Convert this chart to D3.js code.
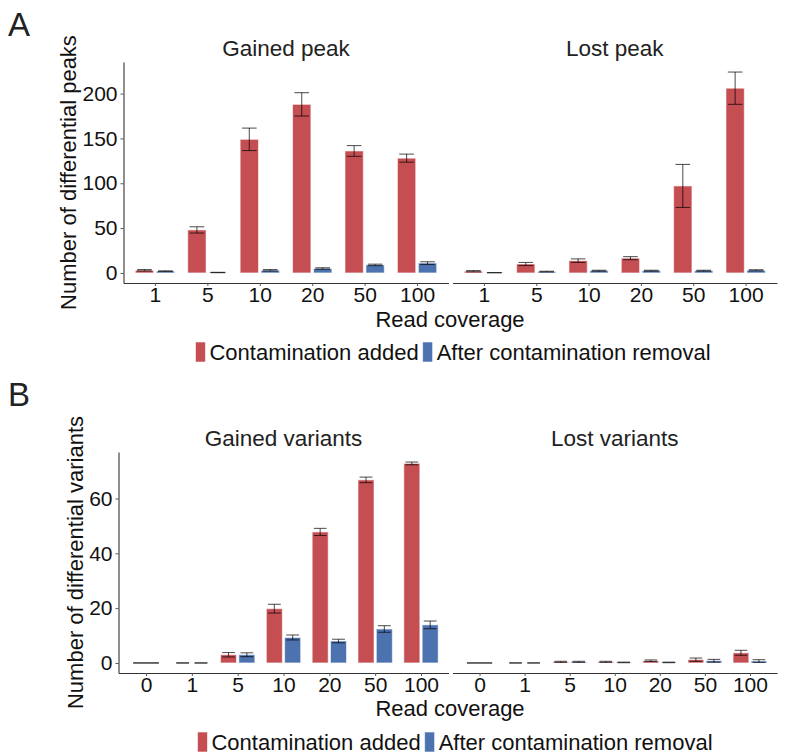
<!DOCTYPE html>
<html>
<head>
<meta charset="utf-8">
<script src="https://cdn.jsdelivr.net/npm/d3@7"></script>
<style>
body { margin: 0; background: #fff; }
text { font-family: "Liberation Sans", Arial, sans-serif; }
</style>
</head>
<body>
<script>
// read coverage categories
var peakCoverage = ["1", "5", "10", "20", "50", "100"];
var variantCoverage = ["0", "1", "5", "10", "20", "50", "100"];

// A - gained / lost peaks
var gainedPeakAdded = [3, 48, 149, 188, 136, 128];
var gainedPeakAddedErr = [0.8, 3.5, 12.5, 13, 6, 4.5];
var gainedPeakRemoved = [2, 0.5, 3, 5, 9, 11];
var gainedPeakRemovedErr = [0.4, 0.2, 0.8, 0.8, 0.8, 1.5];
var lostPeakAdded = [2, 10, 13.7, 16.5, 97, 206];
var lostPeakAddedErr = [0.7, 1.7, 2, 1.7, 24, 18];
var lostPeakRemoved = [0.3, 1.5, 2.5, 2.5, 2.5, 3];
var lostPeakRemovedErr = [0, 0.4, 0.5, 0.5, 0.5, 0.6];

// B - gained / lost variants (null = group not present at that coverage)
var gainedVarAdded = [0, 0, 3, 19.8, 47.8, 66.8, 72.8];
var gainedVarAddedErr = [0, 0, 0.8, 1.6, 1.3, 1, 0.5];
var gainedVarRemoved = [null, 0, 3, 9.3, 8, 12.4, 13.9];
var gainedVarRemovedErr = [null, 0, 0.7, 0.9, 0.65, 1.2, 1.4];
var lostVarAdded = [0, 0, 0.4, 0.4, 0.8, 1.2, 3.7];
var lostVarAddedErr = [0, 0, 0.2, 0.2, 0.3, 0.6, 0.9];
var lostVarRemoved = [null, 0, 0.4, 0.2, 0.2, 0.8, 0.7];
var lostVarRemovedErr = [null, 0, 0.2, 0.1, 0.1, 0.5, 0.5];

var peakTicks = [0, 50, 100, 150, 200];
var variantTicks = [0, 20, 40, 60];

var seriesNames = ["Contamination added", "After contamination removal"];
var colors = ["#C44E52", "#4C72B0"];

var svg = d3.select("body").append("svg")
	.attr("width", 785)
	.attr("height", 756);

// ggplot-like 5% expansion of the data range
function yDomain(lists) {
	var top = 0;
	lists.forEach(function(l) {
		l[0].forEach(function(v, i) {
			if (v != null && v + l[1][i] > top) top = v + l[1][i];
		});
	});
	return [-top * 0.05, top * 1.05];
}

function drawPanel(cats, added, addedErr, removed, removedErr, x0, x1, y, title, top) {
	var x = d3.scalePoint().domain(cats).range([x0, x1]).padding(0.6);
	var step = x.step();
	var g = svg.append("g");

	var rows = [];
	cats.forEach(function(c, i) {
		var single = removed[i] == null;
		rows.push({cat: c, v: added[i], e: addedErr[i], s: 0, off: single ? 0 : -0.2, w: single ? 2 : 1});
		if (!single) rows.push({cat: c, v: removed[i], e: removedErr[i], s: 1, off: 0.2, w: 1});
	});

	g.selectAll("rect.bar")
		.data(rows).enter()
		.append("rect")
		.attr("class", "bar")
		.attr("x", function(d) {return x(d.cat) + d.off * step - 0.175 * step * d.w;})
		.attr("width", function(d) {return 0.35 * step * d.w;})
		.attr("y", function(d) {return y(d.v);})
		.attr("height", function(d) {return y(0) - y(d.v);})
		.style("fill", function(d) {return colors[d.s];})
		.style("stroke", "#fff")
		.style("stroke-opacity", 0.6)
		.style("stroke-width", 1);

	var eb = g.selectAll("g.err")
		.data(rows).enter()
		.append("g")
		.attr("class", "err")
		.style("stroke", "#000")
		.style("stroke-opacity", 0.65)
		.style("stroke-width", 1.1);

	eb.append("line")
		.attr("x1", function(d) {return x(d.cat) + d.off * step;})
		.attr("x2", function(d) {return x(d.cat) + d.off * step;})
		.attr("y1", function(d) {return y(d.v + d.e);})
		.attr("y2", function(d) {return y(d.v - d.e);});
	[1, -1].forEach(function(sign) {
		eb.append("line")
			.attr("x1", function(d) {return x(d.cat) + d.off * step - 0.14 * step * d.w;})
			.attr("x2", function(d) {return x(d.cat) + d.off * step + 0.14 * step * d.w;})
			.attr("y1", function(d) {return y(d.v + sign * d.e);})
			.attr("y2", function(d) {return y(d.v + sign * d.e);});
	});

	var xa = g.append("g")
		.attr("transform", "translate(0," + y.range()[0] + ")")
		.call(d3.axisBottom(x).tickSize(3).tickSizeOuter(0).tickPadding(3));
	xa.select(".domain").style("stroke", "#333").style("stroke-width", 1.1);
	xa.selectAll(".tick line").style("stroke", "#555");
	xa.selectAll(".tick text")
		.style("font-size", "21px")
		.style("fill", "#111")
		.attr("dy", "0.62em");

	g.append("text")
		.attr("x", (x0 + x1) / 2)
		.attr("y", top)
		.attr("text-anchor", "middle")
		.style("font-size", "22.5px")
		.style("fill", "#222")
		.text(title);
}

function drawYAxis(y, x0, ticks, label, labelX) {
	var ya = svg.append("g")
		.attr("transform", "translate(" + x0 + ",0)")
		.call(d3.axisLeft(y).tickValues(ticks).tickSize(3).tickSizeOuter(0).tickPadding(3));
	ya.select(".domain").style("stroke", "#333").style("stroke-width", 1.1);
	ya.selectAll(".tick line").style("stroke", "#555");
	ya.selectAll(".tick text").style("font-size", "21px").style("fill", "#111");

	var r = y.range();
	svg.append("text")
		.attr("transform", "translate(" + labelX + "," + (r[0] + r[1]) / 2 + ") rotate(-90)")
		.attr("text-anchor", "middle")
		.style("font-size", "22px")
		.style("fill", "#111")
		.text(label);
}

function drawLegend(cx, baseline) {
	var lg = svg.append("g");
	var pos = 0;
	seriesNames.forEach(function(n, i) {
		lg.append("rect")
			.attr("x", pos).attr("y", baseline - 18)
			.attr("width", 10).attr("height", 20)
			.style("fill", colors[i])
			.style("stroke", "#fff").style("stroke-opacity", 0.6);
		var t = lg.append("text")
			.attr("x", pos + 14).attr("y", baseline)
			.style("font-size", "22px")
			.style("fill", "#111")
			.text(n);
		pos += 14 + t.node().getComputedTextLength() + 4;
	});
	lg.attr("transform", "translate(" + (cx - (pos - 4) / 2) + ",0)");
}

function panelLetter(l, y) {
	svg.append("text")
		.attr("x", 8).attr("y", y)
		.style("font-size", "33px")
		.style("fill", "#222")
		.text(l);
}

// ---- A ----
var yA = d3.scaleLinear()
	.domain(yDomain([[gainedPeakAdded, gainedPeakAddedErr], [gainedPeakRemoved, gainedPeakRemovedErr],
		[lostPeakAdded, lostPeakAddedErr], [lostPeakRemoved, lostPeakRemovedErr]]))
	.range([283, 62]);

drawPanel(peakCoverage, gainedPeakAdded, gainedPeakAddedErr, gainedPeakRemoved, gainedPeakRemovedErr, 123.5, 448.5, yA, "Gained peak", 56);
drawPanel(peakCoverage, lostPeakAdded, lostPeakAddedErr, lostPeakRemoved, lostPeakRemovedErr, 452.5, 777, yA, "Lost peak", 56);
drawYAxis(yA, 123.5, peakTicks, "Number of differential peaks", 76);

svg.append("text")
	.attr("x", 450).attr("y", 327)
	.attr("text-anchor", "middle")
	.style("font-size", "22px").style("fill", "#111")
	.text("Read coverage");
drawLegend(453, 360);
panelLetter("A", 36);

// ---- B ----
var yB = d3.scaleLinear()
	.domain(yDomain([[gainedVarAdded, gainedVarAddedErr], [gainedVarRemoved, gainedVarRemovedErr],
		[lostVarAdded, lostVarAddedErr], [lostVarRemoved, lostVarRemovedErr]]))
	.range([673, 452]);

drawPanel(variantCoverage, gainedVarAdded, gainedVarAddedErr, gainedVarRemoved, gainedVarRemovedErr, 118.5, 448.5, yB, "Gained variants", 446);
drawPanel(variantCoverage, lostVarAdded, lostVarAddedErr, lostVarRemoved, lostVarRemovedErr, 452.5, 777, yB, "Lost variants", 446);
drawYAxis(yB, 118.5, variantTicks, "Number of differential variants", 83);

svg.append("text")
	.attr("x", 450).attr("y", 716)
	.attr("text-anchor", "middle")
	.style("font-size", "22px").style("fill", "#111")
	.text("Read coverage");
drawLegend(455, 750);
panelLetter("B", 406);
</script>
</body>
</html>
